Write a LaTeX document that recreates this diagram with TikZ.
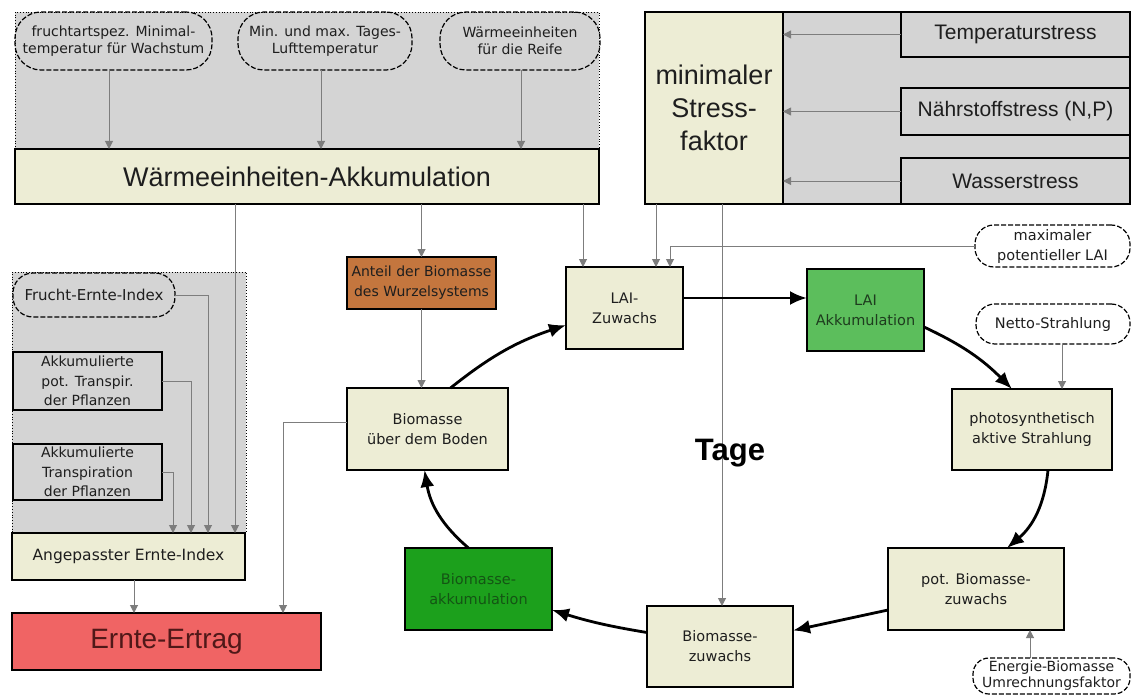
\documentclass[tikz,border=0pt]{standalone}
\usepackage{fontspec}
\setmainfont{Liberation Sans}
\newfontfamily\smf{DejaVu Sans}
\usetikzlibrary{arrows.meta}
\definecolor{regiongray}{RGB}{212,212,212}
\definecolor{boxyellow}{RGB}{237,237,213}
\definecolor{arrowgray}{RGB}{125,125,125}
\definecolor{brownbox}{RGB}{196,118,62}
\definecolor{laigreen}{RGB}{92,190,92}
\definecolor{bioakkgreen}{RGB}{28,160,28}
\definecolor{ertragred}{RGB}{240,100,100}
\definecolor{txt}{RGB}{30,30,30}
\begin{document}
\begin{tikzpicture}[x=1pt,y=-1pt,
  every node/.style={inner sep=0pt,outer sep=0pt,align=center,text=txt},
  bx/.style={draw=black,line width=1.2pt,rectangle},
  ybox/.style={bx,fill=boxyellow},
  graybox/.style={bx,fill=regiongray},
  oval/.style={draw=black,line width=1.2pt,dash pattern=on 5pt off 2pt,rectangle,rounded corners=19pt},
  woval/.style={oval,fill=white},
  region/.style={draw=black,line width=0.8pt,dotted,fill=regiongray},
  fsA/.style={font=\smf\fontsize{14pt}{17pt}\selectfont},
  fsB/.style={font=\smf\fontsize{14.5pt}{20pt}\selectfont},
  fsC/.style={font=\fontsize{21pt}{25pt}\selectfont},
  garrow/.style={draw=arrowgray,line width=1pt,-{Triangle[length=8pt,width=8pt]}},
  cyc/.style={draw=black,line width=2.8pt,-{Latex[length=17pt,width=14pt]}},
]
\fill[white] (0,0) rectangle (1131,695);
\useasboundingbox (0,0) rectangle (1131,695);

% regions
\node[region,minimum width=584pt,minimum height=137pt] (regtop) at (307,80.5) {};
\node[region,minimum width=234pt,minimum height=261pt] (regleft) at (129,402.5) {};
\node[graybox,minimum width=485pt,minimum height=192pt] (stressout) at (887.5,108) {};

% top ovals
\node[oval,rounded corners=26pt,minimum width=197pt,minimum height=58pt,fsA] (e1) at (113.5,41) {fruchtartspez. Minimal-\\temperatur für Wachstum};
\node[oval,rounded corners=26pt,minimum width=174pt,minimum height=58pt,fsA] (e2) at (325,41) {Min. und max. Tages-\\Lufttemperatur};
\node[oval,rounded corners=26pt,minimum width=160pt,minimum height=58pt,fsA] (e3) at (520,41) {Wärmeeinheiten\\für die Reife};

\node[ybox,minimum width=584pt,minimum height=55pt,font=\fontsize{27pt}{32pt}\selectfont] (waerme) at (307,176.5) {Wärmeeinheiten-Akkumulation};

% stress group
\node[ybox,minimum width=138pt,minimum height=192pt,font=\fontsize{27pt}{33pt}\selectfont] (minstress) at (714,108) {minimaler\\Stress-\\faktor};
\node[graybox,minimum width=229pt,minimum height=45pt,fsC] (temp) at (1015.5,34.5) {Temperaturstress};
\node[graybox,minimum width=229pt,minimum height=47pt,fsC] (naehr) at (1015.5,111.5) {Nährstoffstress (N,P)};
\node[graybox,minimum width=229pt,minimum height=46pt,fsC] (wasser) at (1015.5,181) {Wasserstress};

% left group
\node[oval,rounded corners=20pt,minimum width=162pt,minimum height=44pt,font=\smf\fontsize{15pt}{18pt}\selectfont] (frucht) at (94,295) {Frucht-Ernte-Index};
\node[graybox,minimum width=149pt,minimum height=58pt,font=\smf\fontsize{14pt}{19.5pt}\selectfont] (pottr) at (87.5,381) {Akkumulierte\\pot. Transpir.\\der Pflanzen};
\node[graybox,minimum width=149pt,minimum height=56pt,font=\smf\fontsize{14pt}{19.5pt}\selectfont] (tr) at (87.5,472) {Akkumulierte\\Transpiration\\der Pflanzen};
\node[ybox,minimum width=233pt,minimum height=47pt,font=\smf\fontsize{15.5pt}{19pt}\selectfont] (angep) at (128.5,556.5) {Angepasster Ernte-Index};
\node[bx,fill=ertragred,minimum width=309pt,minimum height=57pt,font=\fontsize{28pt}{32pt}\selectfont,text={rgb,255:red,80;green,24;blue,24}] (ertrag) at (166.5,641.5) {Ernte-Ertrag};

% cycle
\node[bx,fill=brownbox,minimum width=149pt,minimum height=52pt,font=\smf\fontsize{14pt}{20pt}\selectfont] (anteil) at (421.5,283) {Anteil der Biomasse\\des Wurzelsystems};
\node[ybox,minimum width=161pt,minimum height=82pt,fsB] (bioboden) at (427.5,429) {Biomasse\\über dem Boden};
\node[ybox,minimum width=117pt,minimum height=82pt,fsB] (laizuw) at (624.5,308) {LAI-\\Zuwachs};
\node[bx,fill=laigreen,minimum width=117pt,minimum height=82pt,fsB,text={rgb,255:red,30;green,60;blue,30}] (laiakk) at (865.5,310) {LAI\\Akkumulation};
\node[ybox,minimum width=160pt,minimum height=81pt,fsB] (photo) at (1032,429.5) {photosynthetisch\\aktive Strahlung};
\node[ybox,minimum width=176pt,minimum height=82pt,fsB] (potbio) at (976,589) {pot. Biomasse-\\zuwachs};
\node[ybox,minimum width=146pt,minimum height=81pt,fsB] (biozuw) at (720,646.5) {Biomasse-\\zuwachs};
\node[bx,fill=bioakkgreen,minimum width=147pt,minimum height=82pt,fsB,text={rgb,255:red,20;green,85;blue,20}] (bioakk) at (478.5,589) {Biomasse-\\akkumulation};

% white ovals
\node[woval,minimum width=155pt,minimum height=42pt,fsB] (maxlai) at (1052.5,246) {maximaler\\potentieller LAI};
\node[woval,minimum width=154pt,minimum height=40pt,fsB] (netto) at (1053,324) {Netto-Strahlung};
\node[woval,rounded corners=16pt,minimum width=157pt,minimum height=36pt,font=\smf\fontsize{14pt}{16pt}\selectfont] (energie) at (1051.5,676) {Energie-Biomasse\\Umrechnungsfaktor};

% helper x positions
\coordinate (x1) at (109,0);
\coordinate (x2) at (321,0);
\coordinate (x3) at (521,0);
\coordinate (xa) at (235,0);
\coordinate (xb) at (208,0);
\coordinate (xc) at (191,0);
\coordinate (xd) at (173,0);
\coordinate (xe) at (134,0);
\coordinate (xf) at (283,0);
\coordinate (xg) at (583,0);
\coordinate (xh) at (656,0);
\coordinate (xi) at (670,0);
\coordinate (xj) at (722,0);
\coordinate (xk) at (1062,0);
\coordinate (xl) at (1030,0);

% thin arrows
\draw[garrow] (e1.south -| x1) -- (waerme.north -| x1);
\draw[garrow] (e2.south -| x2) -- (waerme.north -| x2);
\draw[garrow] (e3.south -| x3) -- (waerme.north -| x3);
\draw[garrow] (temp.west) -- (temp.west -| minstress.east);
\draw[garrow] (naehr.west) -- (naehr.west -| minstress.east);
\draw[garrow] (wasser.west) -- (wasser.west -| minstress.east);
\draw[garrow] (waerme.south -| xa) -- (angep.north -| xa);
\draw[garrow] (frucht.east) -| (angep.north -| xb);
\draw[garrow] (pottr.east) -| (angep.north -| xc);
\draw[garrow] (tr.east) -| (angep.north -| xd);
\draw[garrow] (angep.south -| xe) -- (ertrag.north -| xe);
\draw[garrow] ([yshift=7pt]bioboden.west) -| (ertrag.north -| xf);
\draw[garrow] (waerme.south -| anteil.north) -- (anteil.north);
\draw[garrow] (anteil.south) -- (anteil.south |- bioboden.north);
\draw[garrow] (waerme.south -| xg) -- (laizuw.north -| xg);
\draw[garrow] (stressout.south -| xh) -- (laizuw.north -| xh);
\draw[garrow] (maxlai.west) -| (laizuw.north -| xi);
\draw[garrow] (stressout.south -| xj) -- (biozuw.north -| xj);
\draw[garrow] (netto.south -| xk) -- (photo.north -| xk);
\draw[garrow] (energie.north -| xl) -- (potbio.south -| xl);

% Tage
\node[font=\bfseries\fontsize{31pt}{36pt}\selectfont,text=black] (tage) at (730,453) {Tage};

% cycle arrows
\draw[cyc] ([yshift=10pt]laizuw.east) -- ([yshift=12pt]laiakk.west);
\draw[cyc] ([yshift=-17pt]laiakk.east) to[bend left=10] ([xshift=-20pt]photo.north);
\draw[cyc] ([xshift=16pt]photo.south) to[bend left=22] ([xshift=31pt]potbio.north);
\draw[cyc] ([yshift=-21pt]potbio.west) -- ([yshift=16pt]biozuw.east);
\draw[cyc] ([yshift=14pt]biozuw.west) to[bend left=4] ([yshift=-21pt]bioakk.east);
\draw[cyc] ([xshift=-10pt]bioakk.north) to[bend left=20] ([xshift=-3pt]bioboden.south);
\draw[cyc] ([xshift=23pt]bioboden.north) to[bend left=10] ([yshift=-17pt]laizuw.west);
\end{tikzpicture}
\end{document}
